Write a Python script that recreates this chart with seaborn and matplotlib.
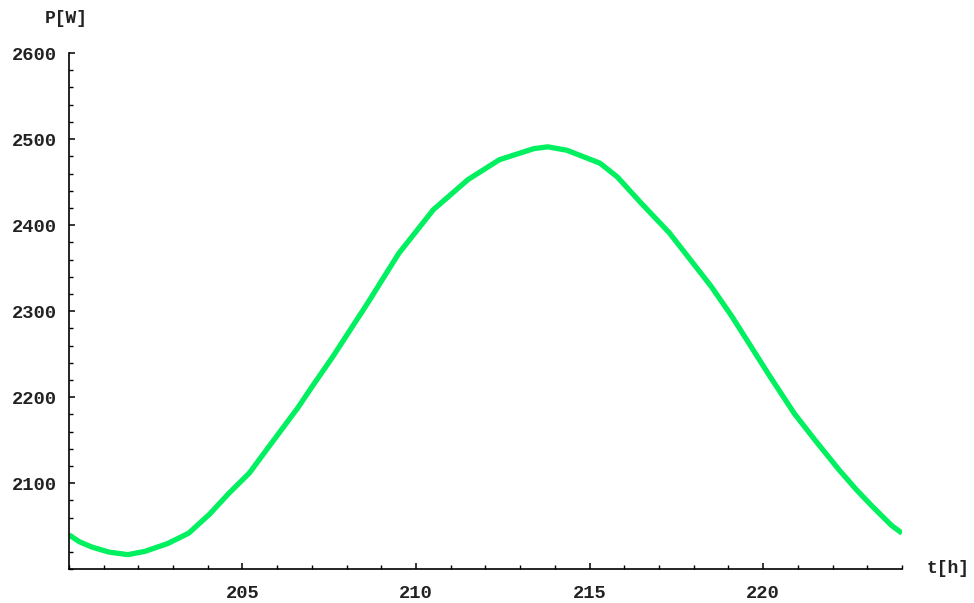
import numpy as np
import pandas as pd
import matplotlib
matplotlib.use("Agg")
import matplotlib.pyplot as plt
from matplotlib.ticker import MultipleLocator, FixedLocator
import seaborn as sns

# Data
t_hours = [200.0, 200.3, 200.65, 201.15, 201.7, 202.2, 202.85, 203.45, 204.05, 204.6,
           205.2, 205.75, 206.6, 207.0, 207.6, 208.6, 209.5, 210.5, 211.5, 212.4,
           213.4, 213.8, 214.35, 215.3, 215.8, 216.5, 217.3, 217.9, 218.5, 219.1,
           219.65, 220.2, 220.9, 221.5, 222.2, 222.7, 223.15, 223.7, 224.0]
power_w = [2040, 2032, 2026, 2020, 2017, 2021, 2030, 2042, 2064, 2088,
           2112, 2142, 2188, 2212, 2247, 2309, 2367, 2418, 2453, 2476,
           2489, 2491, 2487, 2472, 2456, 2425, 2391, 2360, 2329, 2294,
           2259, 2224, 2181, 2150, 2115, 2092, 2073, 2051, 2042]
x_tick_labels = [205, 210, 215, 220]
y_tick_labels = [2100, 2200, 2300, 2400, 2500, 2600]

sns.set_style("white")
plt.rcParams['font.family'] = ['Liberation Mono', 'DejaVu Sans Mono']

fig = plt.figure(figsize=(9.74, 6.03), dpi=100)
ax = fig.add_axes([0.0708, 0.0559, 0.926 - 0.0708, 0.912 - 0.0559])

df = pd.DataFrame({"t": t_hours, "P": power_w})
sns.lineplot(data=df, x="t", y="P", ax=ax, color="#00f060", linewidth=3.8,
             sort=True, estimator=None, solid_joinstyle="round",
             solid_capstyle="butt")

ax.set_xlim(200, 224)
ax.set_ylim(2000, 2600)
ax.xaxis.set_major_locator(FixedLocator(x_tick_labels))
ax.yaxis.set_major_locator(FixedLocator(y_tick_labels))
ax.xaxis.set_minor_locator(MultipleLocator(1))
ax.yaxis.set_minor_locator(MultipleLocator(20))
ax.set_xlabel("")
ax.set_ylabel("")

for s in ["top", "right"]:
    ax.spines[s].set_visible(False)
for s in ["left", "bottom"]:
    ax.spines[s].set_color("black")
    ax.spines[s].set_linewidth(1.2)

ax.tick_params(axis="both", which="both", bottom=True, left=True, top=False, right=False)
ax.tick_params(axis="both", which="major", direction="in", length=4.5, width=1.1,
               colors="black", labelsize=13.5)
ax.tick_params(axis="both", which="minor", direction="in", length=3, width=1.0,
               colors="black")
ax.tick_params(axis="y", which="major", pad=9)
ax.tick_params(axis="x", which="major", pad=11)
for lab in ax.get_xticklabels() + ax.get_yticklabels():
    lab.set_fontweight("bold")
    lab.set_color("#222222")

fig.text(0.068, 0.969, "P[W]", ha="center", va="center", fontsize=13,
         fontweight="bold", color="#222222")
fig.text(0.973, 0.058, "t[h]", ha="center", va="center", fontsize=13,
         fontweight="bold", color="#222222")

fig.savefig("out.png", dpi=100, facecolor="white")
